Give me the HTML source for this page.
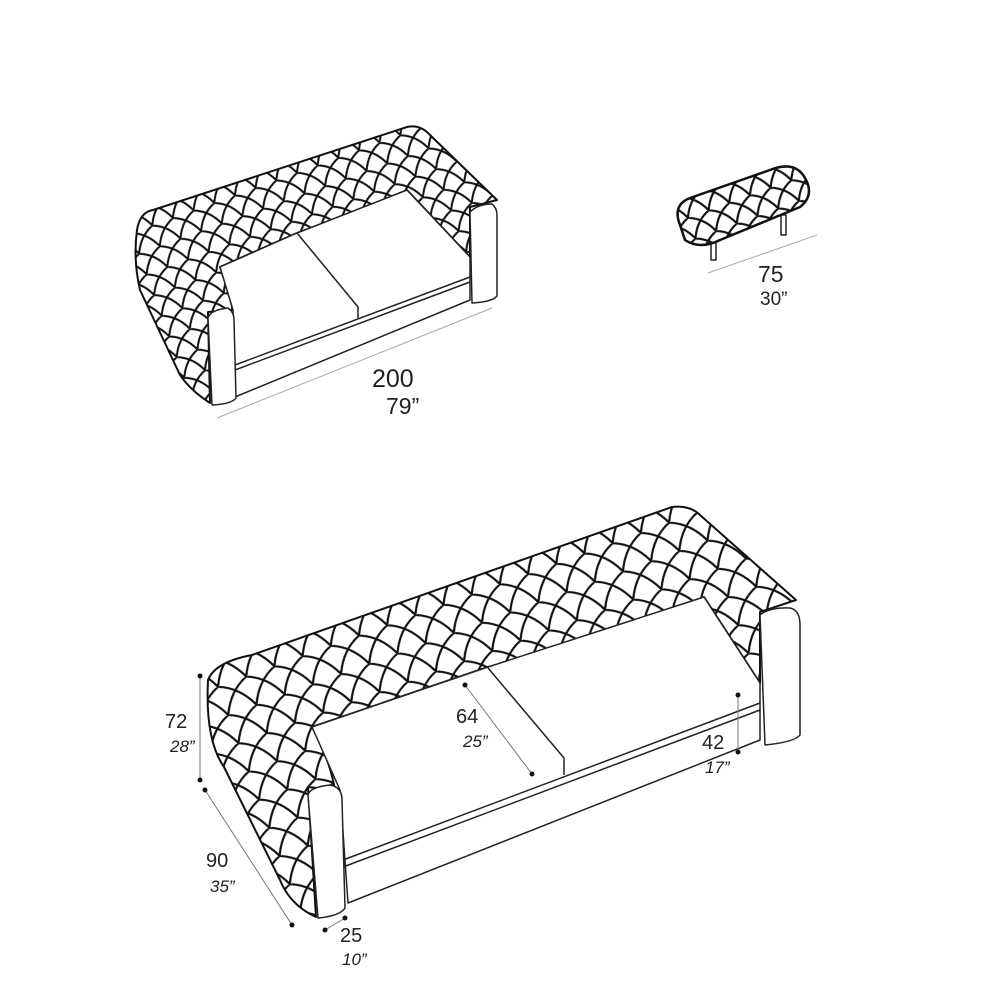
<!DOCTYPE html>
<html><head><meta charset="utf-8"><style>
html,body{margin:0;padding:0;background:#fff;}
svg{display:block;}
text{font-family:"Liberation Sans",sans-serif;fill:#222;}
</style></head><body>
<svg width="990" height="990" viewBox="0 0 990 990" xmlns="http://www.w3.org/2000/svg">
<defs>
<pattern id="q" width="30" height="30" patternUnits="userSpaceOnUse" patternTransform="rotate(-20)">
<rect width="30" height="30" fill="#fff"/>
<path d="M0,0 Q20,8 30,30 M30,0 Q10,8 0,30" fill="none" stroke="#111" stroke-width="2.2"/>
</pattern>
<pattern id="qs" width="22" height="22" patternUnits="userSpaceOnUse" patternTransform="rotate(-20)">
<rect width="22" height="22" fill="#fff"/>
<path d="M0,0 Q15,6 22,22 M22,0 Q7,6 0,22" fill="none" stroke="#111" stroke-width="2"/>
</pattern>
<pattern id="qo" width="22" height="22" patternUnits="userSpaceOnUse" patternTransform="rotate(-20)">
<rect width="22" height="22" fill="#fff"/>
<path d="M0,0 Q15,6 22,22 M22,0 Q7,6 0,22" fill="none" stroke="#111" stroke-width="2.2"/>
</pattern>
</defs>
<g fill="none" stroke="#222" stroke-width="1.5" stroke-linejoin="round">
<!-- top sofa -->
<path d="M137,230 Q140,212 153,210 L407,127 Q420,124 430,135 L497,200 L470,207 L470,257 L407,190 Q350,215 297,233 L220,267 Q228,290 233,310 L208,312 L210,403 Q190,390 180,375 L140,290 Q133,260 137,230 Z" fill="url(#qs)" stroke="#111" stroke-width="2"/>
<path d="M233,310 L220,267 L297,233 L407,190 L470,257 L470,300 L235,397 Z" fill="#fff"/>
<path d="M235,365 L470,277 M235,370 L470,282 M297,233 L358,307 L358,318"/>
<path d="M208,318 Q210,310 228,308 Q234,312 234,320 L236,398 Q232,404 212,405 Z" fill="#fff"/>
<path d="M470,212 Q478,204 492,204 Q497,208 497,215 L497,296 Q492,302 472,303 Z" fill="#fff"/>
<path d="M217,418 L492,308" stroke="#aaa" stroke-width="1"/>
<!-- ottoman -->
<rect x="711" y="242" width="5" height="18" fill="#fff"/>
<rect x="781" y="215" width="5" height="20" fill="#fff"/>
<path d="M680,225 Q672,205 690,198 L770,170 Q795,160 805,178 Q815,195 800,207 L720,240 Q700,250 685,240 Z" fill="url(#qo)" stroke="#111" stroke-width="2.5"/>
<path d="M708,273 L817,235" stroke="#aaa" stroke-width="1"/>
<!-- big sofa -->
<path d="M208,680 Q215,662 252,655 L672,507 Q690,505 700,515 L796,600 L760,612 L760,683 L704,597 Q600,640 488,667 L312,727 Q330,760 335,790 L308,787 L316,917 Q290,905 280,880 L224,767 Q205,740 208,680 Z" fill="url(#q)" stroke="#111" stroke-width="2"/>
<path d="M340,790 L312,727 L488,667 L704,597 L760,683 L760,740 L348,903 Z" fill="#fff"/>
<path d="M343,860 L760,703 M343,867 L760,710 M488,668 L564,758 L564,775"/>
<path d="M308,795 Q310,787 330,785 Q342,787 342,800 L345,908 Q340,916 318,918 Z" fill="#fff"/>
<path d="M760,615 Q770,607 790,608 Q800,610 800,625 L800,735 Q795,742 765,745 Z" fill="#fff"/>
<!-- dims -->
<path d="M200,676 L200,780 M205,790 L292,925 M345,918 L325,930 M465,685 L532,774 M738,695 L738,752" stroke="#777" stroke-width="1"/>
</g>
<g fill="#111">
<circle cx="200" cy="676" r="2.5"/><circle cx="200" cy="780" r="2.5"/>
<circle cx="205" cy="790" r="2.5"/><circle cx="292" cy="925" r="2.5"/>
<circle cx="345" cy="918" r="2.5"/><circle cx="325" cy="930" r="2.5"/>
<circle cx="465" cy="685" r="2.5"/><circle cx="532" cy="774" r="2.5"/>
<circle cx="738" cy="695" r="2.5"/><circle cx="738" cy="752" r="2.5"/>
</g>
<text x="372" y="387" font-size="25">200</text>
<text x="386" y="414" font-size="23">79”</text>
<text x="758" y="282" font-size="23">75</text>
<text x="760" y="305" font-size="19">30”</text>
<text x="165" y="728" font-size="20">72</text>
<text x="170" y="752" font-size="17" font-style="italic">28”</text>
<text x="206" y="867" font-size="20">90</text>
<text x="210" y="892" font-size="17" font-style="italic">35”</text>
<text x="340" y="942" font-size="20">25</text>
<text x="342" y="965" font-size="17" font-style="italic">10”</text>
<text x="456" y="723" font-size="20">64</text>
<text x="463" y="747" font-size="17" font-style="italic">25”</text>
<text x="702" y="749" font-size="20">42</text>
<text x="705" y="773" font-size="17" font-style="italic">17”</text>
</svg>
</body></html>
